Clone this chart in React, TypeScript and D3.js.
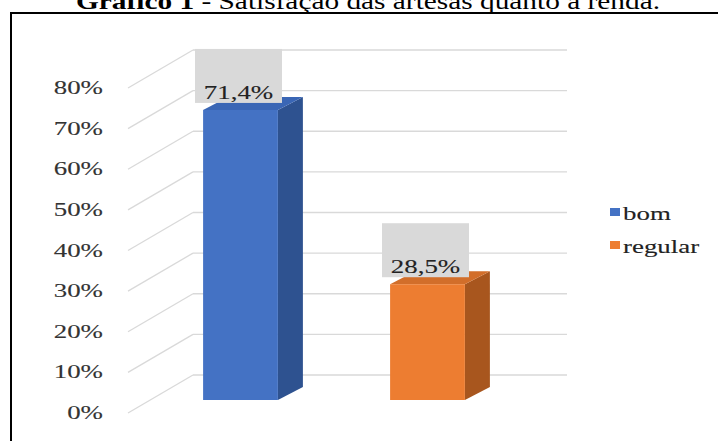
import React from "react";
import * as d3 from "d3";

const categories = ["bom", "regular"];
const values = [71.4, 28.5];
const valueLabels = ["71,4%", "28,5%"];
const tickValues = [0, 10, 20, 30, 40, 50, 60, 70, 80];
const tickLabels = ["0%", "10%", "20%", "30%", "40%", "50%", "60%", "70%", "80%"];
const frontColors = ["#4472C4", "#ED7D31"];
const sideColors = ["#2E5290", "#A8561E"];
const topColors = ["#3A66B5", "#D26E2A"];

const W = 718;
const H = 441;
const SX = 1.38;
const FONT = "'Liberation Serif', 'Times New Roman', serif";

export default function App() {
  const y = d3.scaleLinear().domain([0, 80]).range([400, 75]);
  const x = d3.scaleBand().domain(categories).range([147, 521]).paddingInner(0.6).paddingOuter(0.3);
  const bw = x.bandwidth();
  const depthX = 25;
  const depthY = -13;
  const gridFrontX = 128;
  const gridBackX = 193;
  const gridRightX = 567;
  const gridFrontOff = 13;
  const gridBackOff = -25;

  const stretched = (key: string, txt: string, tx: number, ty: number, size: number, anchor: string, fill = "#1a1a1a") => (
    <g key={key} transform={`translate(${tx},${ty}) scale(${SX},1)`}>
      <text x={0} y={0} fontFamily={FONT} fontSize={size} textAnchor={anchor} fill={fill} stroke={fill} strokeWidth={0.12}>
        {txt}
      </text>
    </g>
  );

  return (
    <svg width={W} height={H} style={{ position: "absolute", left: 0, top: 0, background: "#fff" }}>
      <rect x={0} y={0} width={W} height={H} fill="#fff" />
      {/* title */}
      <text
        x={76}
        y={9}
        fontFamily={FONT}
        fontSize={23}
        textAnchor="start"
        fill="#000"
        textLength={584}
        lengthAdjust="spacingAndGlyphs"
      >
        <tspan fontWeight="bold">Gráfico 1</tspan>
        <tspan> - Satisfação das artesãs quanto à renda.</tspan>
      </text>
      {/* frame */}
      <line x1={10} y1={13} x2={W} y2={13} stroke="#000" strokeWidth={2} />
      <line x1={11} y1={12} x2={11} y2={H} stroke="#000" strokeWidth={2} />

      {/* gridlines */}
      {tickValues.map((t) => {
        const yf = y(t) + gridFrontOff;
        const yb = y(t) + gridBackOff;
        return (
          <g key={"g" + t}>
            <line x1={gridFrontX} y1={yf} x2={gridBackX} y2={yb} stroke="#d9d9d9" strokeWidth={1.3} />
            <line x1={gridBackX} y1={yb} x2={gridRightX} y2={yb} stroke="#d9d9d9" strokeWidth={1.3} />
          </g>
        );
      })}

      {/* tick labels */}
      {tickValues.map((t, i) => stretched("t" + t, tickLabels[i], 103, y(t) + gridFrontOff + 6, 19.5, "end", "#333"))}

      {/* bars */}
      {categories.map((c, i) => {
        const x0 = x(c)!;
        const x1 = x0 + bw;
        const yt = y(values[i]);
        const yb = y(0);
        const side = `M${x1},${yt} L${x1 + depthX},${yt + depthY} L${x1 + depthX},${yb + depthY} L${x1},${yb} Z`;
        const top = `M${x0},${yt} L${x1},${yt} L${x1 + depthX},${yt + depthY} L${x0 + depthX},${yt + depthY} Z`;
        return (
          <g key={c}>
            <path d={side} fill={sideColors[i]} />
            <path d={top} fill={topColors[i]} />
            <rect x={x0} y={yt} width={bw} height={yb - yt} fill={frontColors[i]} />
          </g>
        );
      })}

      {/* data labels */}
      {categories.map((c, i) => {
        const cx = x(c)! + bw / 2 - 2;
        const yt = y(values[i]);
        const bxW = 87;
        const bxH = 54;
        const bxBottom = yt - 7;
        return (
          <g key={"l" + c}>
            <rect x={cx - bxW / 2} y={bxBottom - bxH} width={bxW} height={bxH} fill="#d9d9d9" />
            {stretched("v" + c, valueLabels[i], cx, bxBottom - 4, 19.5, "middle", "#222")}
          </g>
        );
      })}

      {/* legend */}
      {categories.map((c, i) => (
        <g key={"lg" + c}>
          <rect x={610} y={208 + i * 33} width={10} height={8} fill={frontColors[i]} />
          {stretched("lt" + c, c, 623, 220 + i * 33, 19.5, "start", "#222")}
        </g>
      ))}
    </svg>
  );
}
